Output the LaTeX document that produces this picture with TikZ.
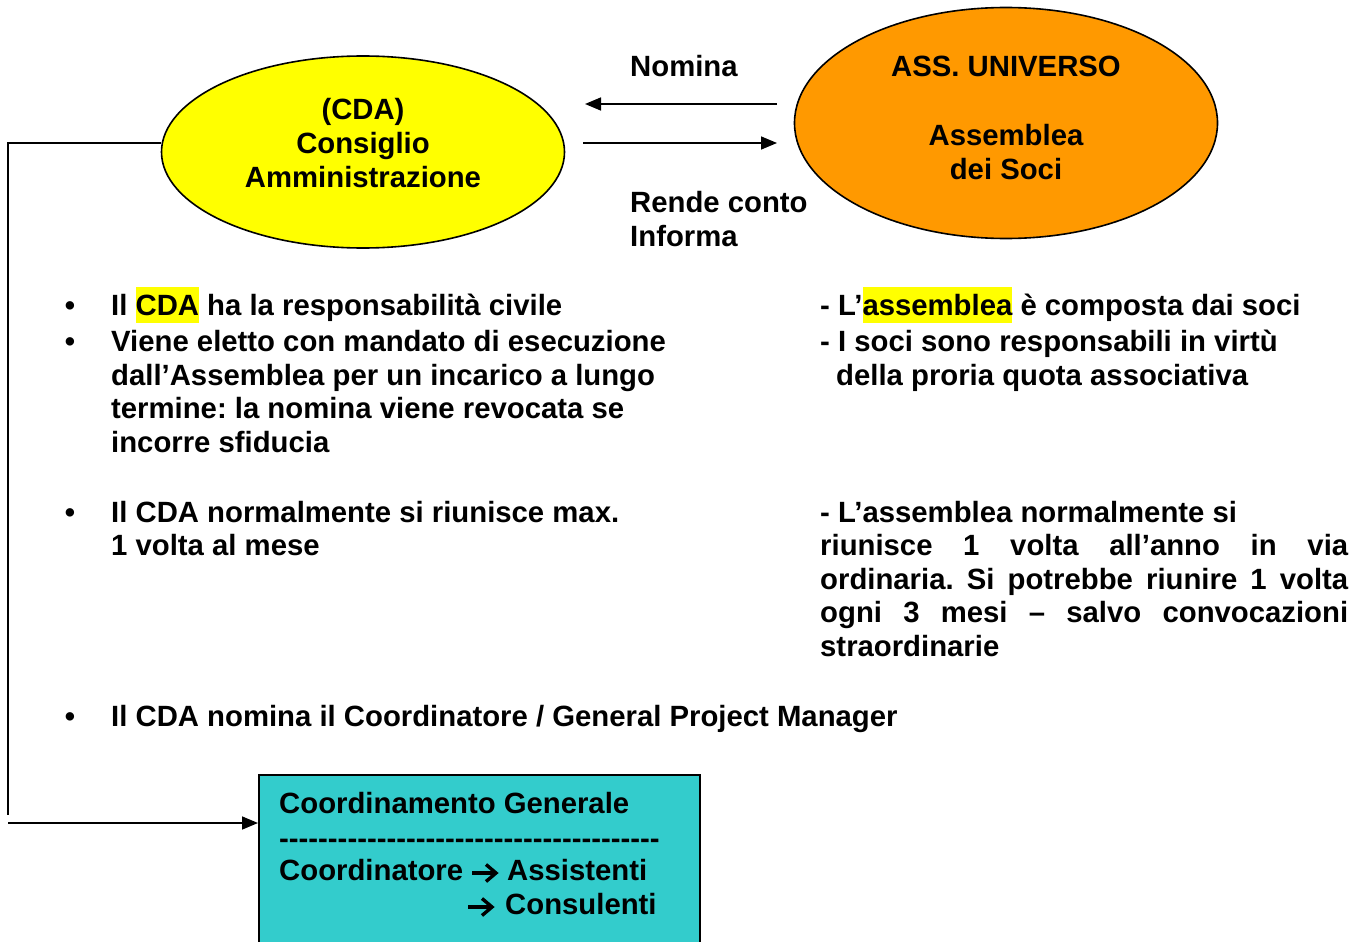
\documentclass[tikz,border=0pt]{standalone}
\usepackage{fontspec}
\setmainfont{Liberation Sans}
\usetikzlibrary{shapes.geometric,arrows.meta}
\definecolor{cdayellow}{HTML}{FFFF00}
\definecolor{assorange}{HTML}{FF9900}
\definecolor{boxcyan}{HTML}{33CCCC}
\newcommand\hlt[1]{{\setlength\fboxsep{0pt}\colorbox{cdayellow}{\rule[-8pt]{0pt}{36pt}#1}}}
\frenchspacing
\begin{document}
\begin{tikzpicture}[x=1pt,y=-1pt,
  every node/.style={font=\fontsize{29.3}{35}\selectfont\bfseries, inner sep=0pt},
  txt/.style={anchor=base west},
  ctr/.style={anchor=base},
  blt/.style={anchor=base},
  oval/.style={ellipse, draw=black, line width=1.6pt},
  conn/.style={line width=1.6pt},
  arr/.style={line width=1.6pt, -{Triangle[length=16pt,width=13pt]}},
  glyph/.style={line width=3.4pt, line join=miter}]
\useasboundingbox (0,0) rectangle (1361,942);

% ellipses
\node[oval, fill=cdayellow, minimum width=403pt, minimum height=192pt] (cda) at (363,152) {};
\node[ctr] (cda1) at (363,119) {(CDA)};
\node[ctr] (cda2) at (363,153) {Consiglio};
\node[ctr] (cda3) at (363,187) {Amministrazione};

\node[oval, fill=assorange, minimum width=423pt, minimum height=231pt] (ass) at (1006,123) {};
\node[ctr] (ass1) at (1006,77) {ASS. UNIVERSO};
\node[ctr] (ass2) at (1006,145) {Assemblea};
\node[ctr] (ass3) at (1006,179) {dei Soci};

% arrows between ellipses
\coordinate (nomA) at (777,104);
\coordinate (nomB) at (585,104);
\coordinate (renA) at (583,143);
\coordinate (renB) at (777,143);
\draw[arr] (nomA) -- (nomB);
\draw[arr] (renA) -- (renB);
\node[txt] (nomina) at (630,77) {Nomina};
\node[txt] (rende) at (630,212) {Rende conto};
\node[txt] (informa) at (630,246) {Informa};

% left column
\node[blt] (b1) at (70,315) {•};
\node[txt] (l1) at (111,315) {Il \hlt{CDA} ha la responsabilità civile};
\node[blt] (b2) at (70,351) {•};
\node[txt] (l2) at (111,351) {Viene eletto con mandato di esecuzione};
\node[txt] (l3) at (111,385) {dall’Assemblea per un incarico a lungo};
\node[txt] (l4) at (111,418) {termine: la nomina viene revocata se};
\node[txt] (l5) at (111,452) {incorre sfiducia};
\node[blt] (b3) at (70,522) {•};
\node[txt] (l6) at (111,522) {Il CDA normalmente si riunisce max.};
\node[txt] (l7) at (111,555) {1 volta al mese};
\node[blt] (b4) at (70,726) {•};
\node[txt] (l8) at (111,726) {Il CDA nomina il Coordinatore / General Project Manager};

% right column
\node[txt] (r1) at (820,315) {- L’\hlt{assemblea} è composta dai soci};
\node[txt] (r2) at (820,351) {- I soci sono responsabili in virtù};
\node[txt] (r3) at (836,385) {della proria quota associativa};
\node[txt] (r4) at (820,522) {- L’assemblea normalmente si};
\node[txt] (r5) at (820,555) {\makebox[528pt][s]{riunisce 1 volta all’anno in via}};
\node[txt] (r6) at (820,589) {\makebox[528pt][s]{ordinaria. Si potrebbe riunire 1 volta}};
\node[txt] (r7) at (820,622) {\makebox[528pt][s]{ogni 3 mesi – salvo convocazioni}};
\node[txt] (r8) at (820,656) {straordinarie};

% bottom box
\node[draw=black, line width=1.6pt, fill=boxcyan, anchor=north west,
      minimum width=441pt, minimum height=180pt] (coord) at (258,774) {};
\node[txt] (c1) at (279,813) {Coordinamento Generale};
\node[txt] (c2) at (279,848) {\foreach \i in {1,...,39}{-\kern0pt}};
\node[txt] (c3) at (279,880) {Coordinatore};
\node[txt] (c4) at (507,880) {Assistenti};
\node[txt] (c5) at (505,914) {Consulenti};
\coordinate (g1a) at (472,873);
\coordinate (g1b) at (496,873);
\coordinate (g2a) at (468,907);
\coordinate (g2b) at (492,907);
\draw[glyph] (g1a) -- (g1b);
\draw[glyph] ([shift={(-10,-8.5)}]g1b) -- (g1b) -- ([shift={(-10,8.5)}]g1b);
\draw[glyph] (g2a) -- (g2b);
\draw[glyph] ([shift={(-10,-8.5)}]g2b) -- (g2b) -- ([shift={(-10,8.5)}]g2b);

% left connector
\coordinate (lcorner) at (8,815);
\coordinate (lstart) at (8,823);
\draw[conn] ([yshift=9pt]cda.west) -| (lcorner);
\draw[arr] (lstart) -- (lstart -| coord.west);
\end{tikzpicture}
\end{document}
